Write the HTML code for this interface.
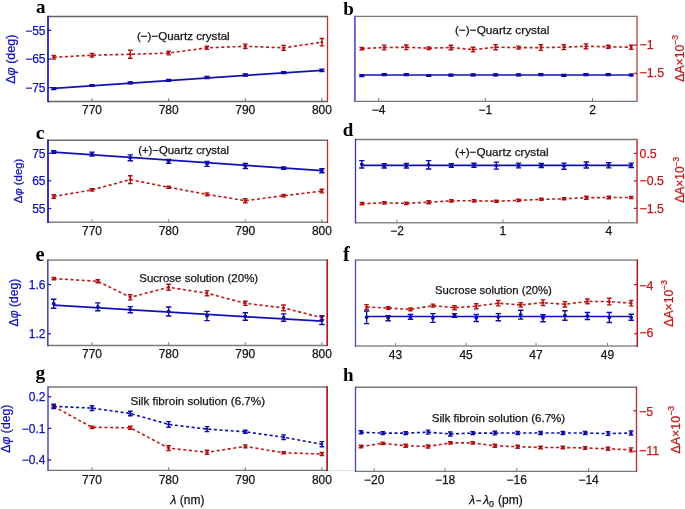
<!DOCTYPE html>
<html><head><meta charset="utf-8"><style>
html,body{margin:0;padding:0;background:#fff;}
body{width:685px;height:509px;overflow:hidden;}
svg{display:block;font-family:"Liberation Sans", sans-serif;filter:blur(0.3px);}
</style></head><body>
<svg width="685" height="509" viewBox="0 0 685 509">
<rect width="685" height="509" fill="#fff"/>
<line x1="48.0" y1="16.5" x2="327.5" y2="16.5" stroke="#606060" stroke-width="1.4"/>
<line x1="48.0" y1="101.5" x2="327.5" y2="101.5" stroke="#606060" stroke-width="1.4"/>
<line x1="48.0" y1="15.8" x2="48.0" y2="102.2" stroke="#2020c8" stroke-width="1.8"/>
<line x1="327.5" y1="15.8" x2="327.5" y2="102.2" stroke="#b83030" stroke-width="1.3"/>
<line x1="92.015" y1="101.5" x2="92.015" y2="98.3" stroke="#666" stroke-width="1"/>
<text x="92.015" y="114.2" text-anchor="middle" fill="#151515" stroke="#151515" stroke-width="0.25" font-size="12">770</text>
<line x1="168.645" y1="101.5" x2="168.645" y2="98.3" stroke="#666" stroke-width="1"/>
<text x="168.645" y="114.2" text-anchor="middle" fill="#151515" stroke="#151515" stroke-width="0.25" font-size="12">780</text>
<line x1="245.27500000000003" y1="101.5" x2="245.27500000000003" y2="98.3" stroke="#666" stroke-width="1"/>
<text x="245.27500000000003" y="114.2" text-anchor="middle" fill="#151515" stroke="#151515" stroke-width="0.25" font-size="12">790</text>
<line x1="321.905" y1="101.5" x2="321.905" y2="98.3" stroke="#666" stroke-width="1"/>
<text x="321.905" y="114.2" text-anchor="middle" fill="#151515" stroke="#151515" stroke-width="0.25" font-size="12">800</text>
<line x1="48.0" y1="30.3" x2="51.2" y2="30.3" stroke="#1212b4" stroke-width="1.2"/>
<text x="45.5" y="34.6" text-anchor="end" fill="#1212b4" stroke="#1212b4" stroke-width="0.25" font-size="12">&#8722;55</text>
<line x1="48.0" y1="59.0" x2="51.2" y2="59.0" stroke="#1212b4" stroke-width="1.2"/>
<text x="45.5" y="63.3" text-anchor="end" fill="#1212b4" stroke="#1212b4" stroke-width="0.25" font-size="12">&#8722;65</text>
<line x1="48.0" y1="87.7" x2="51.2" y2="87.7" stroke="#1212b4" stroke-width="1.2"/>
<text x="45.5" y="92.0" text-anchor="end" fill="#1212b4" stroke="#1212b4" stroke-width="0.25" font-size="12">&#8722;75</text>
<polyline points="53.7,57.3 92.0,55.2 130.3,54.3 168.6,53.1 207.0,47.8 245.3,46.3 283.6,47.8 321.9,42.2" fill="none" stroke="#c01a1a" stroke-width="1.6" stroke-dasharray="3.1,2.5"/>
<path d="M51.4,55.5h4.6M53.7,55.5v3.6M51.4,59.1h4.6M89.7,53.4h4.6M92.0,53.4v3.6M89.7,57.0h4.6M128.0,50.3h4.6M130.3,50.3v8.0M128.0,58.3h4.6M166.3,51.3h4.6M168.6,51.3v3.6M166.3,54.9h4.6M204.7,46.2h4.6M207.0,46.2v3.2M204.7,49.4h4.6M243.0,44.1h4.6M245.3,44.1v4.4M243.0,48.5h4.6M281.3,45.4h4.6M283.6,45.4v4.8M281.3,50.2h4.6M319.6,38.5h4.6M321.9,38.5v7.4M319.6,45.9h4.6" stroke="#b01010" stroke-width="1.4" fill="none"/>
<rect x="52.3" y="56.3" width="2.8" height="2.0" rx="0.6" fill="#b01010"/>
<rect x="90.6" y="54.2" width="2.8" height="2.0" rx="0.6" fill="#b01010"/>
<rect x="128.9" y="53.3" width="2.8" height="2.0" rx="0.6" fill="#b01010"/>
<rect x="167.2" y="52.1" width="2.8" height="2.0" rx="0.6" fill="#b01010"/>
<rect x="205.6" y="46.8" width="2.8" height="2.0" rx="0.6" fill="#b01010"/>
<rect x="243.9" y="45.3" width="2.8" height="2.0" rx="0.6" fill="#b01010"/>
<rect x="282.2" y="46.8" width="2.8" height="2.0" rx="0.6" fill="#b01010"/>
<rect x="320.5" y="41.2" width="2.8" height="2.0" rx="0.6" fill="#b01010"/>
<polyline points="53.7,88.3 321.9,70.3" fill="none" stroke="#1212b4" stroke-width="1.7"/>
<path d="M51.0,87.6h5.4M53.7,87.6v2.0M51.0,89.6h5.4M89.3,84.6h5.4M92.0,84.6v1.8M89.3,86.4h5.4M127.6,82.0h5.4M130.3,82.0v1.8M127.6,83.8h5.4M165.9,79.4h5.4M168.6,79.4v1.8M165.9,81.2h5.4M204.3,76.5h5.4M207.0,76.5v2.0M204.3,78.5h5.4M242.6,74.0h5.4M245.3,74.0v2.0M242.6,76.0h5.4M280.9,71.7h5.4M283.6,71.7v1.8M280.9,73.5h5.4M319.2,69.1h5.4M321.9,69.1v2.4M319.2,71.5h5.4" stroke="#0c0ca4" stroke-width="1.4" fill="none"/>
<rect x="51.9" y="87.2" width="3.6" height="2.8" rx="0.8" fill="#0c0ca4"/>
<rect x="90.2" y="84.1" width="3.6" height="2.8" rx="0.8" fill="#0c0ca4"/>
<rect x="128.5" y="81.5" width="3.6" height="2.8" rx="0.8" fill="#0c0ca4"/>
<rect x="166.8" y="78.9" width="3.6" height="2.8" rx="0.8" fill="#0c0ca4"/>
<rect x="205.2" y="76.1" width="3.6" height="2.8" rx="0.8" fill="#0c0ca4"/>
<rect x="243.5" y="73.6" width="3.6" height="2.8" rx="0.8" fill="#0c0ca4"/>
<rect x="281.8" y="71.2" width="3.6" height="2.8" rx="0.8" fill="#0c0ca4"/>
<rect x="320.1" y="68.9" width="3.6" height="2.8" rx="0.8" fill="#0c0ca4"/>
<text x="136.9" y="39.8" fill="#151515" stroke="#151515" stroke-width="0.25" font-size="11.6">(&#8722;)&#8722;Quartz crystal</text>
<text x="36" y="13.4" font-family='"Liberation Serif", serif' font-weight="bold" font-size="19" fill="#000">a</text>
<text transform="translate(14.7,59.2) rotate(-90)" text-anchor="middle" fill="#1212b4" stroke="#1212b4" stroke-width="0.25" font-size="12.5">&#916;<tspan font-style="italic">&#966;</tspan> (deg)</text>
<line x1="354.9" y1="16.4" x2="637.0" y2="16.4" stroke="#777" stroke-width="1.4"/>
<line x1="354.9" y1="101.4" x2="637.0" y2="101.4" stroke="#777" stroke-width="1.4"/>
<line x1="354.9" y1="15.7" x2="354.9" y2="102.10000000000001" stroke="#6464c8" stroke-width="1.9"/>
<line x1="637.0" y1="15.7" x2="637.0" y2="102.10000000000001" stroke="#b85858" stroke-width="1.5"/>
<line x1="378.7" y1="101.4" x2="378.7" y2="98.2" stroke="#777" stroke-width="1"/>
<text x="378.7" y="114.1" text-anchor="middle" fill="#151515" stroke="#151515" stroke-width="0.25" font-size="12">&#8722;4</text>
<line x1="485.3" y1="101.4" x2="485.3" y2="98.2" stroke="#777" stroke-width="1"/>
<text x="485.3" y="114.1" text-anchor="middle" fill="#151515" stroke="#151515" stroke-width="0.25" font-size="12">&#8722;1</text>
<line x1="592.5" y1="101.4" x2="592.5" y2="98.2" stroke="#777" stroke-width="1"/>
<text x="592.5" y="114.1" text-anchor="middle" fill="#151515" stroke="#151515" stroke-width="0.25" font-size="12">2</text>
<line x1="637.0" y1="45.1" x2="633.8" y2="45.1" stroke="#c01a1a" stroke-width="1.2"/>
<text x="639.6" y="48.900000000000006" fill="#c01a1a" stroke="#c01a1a" stroke-width="0.25" font-size="12.4">&#8722;1</text>
<line x1="637.0" y1="73.3" x2="633.8" y2="73.3" stroke="#c01a1a" stroke-width="1.2"/>
<text x="639.6" y="77.10000000000001" fill="#c01a1a" stroke="#c01a1a" stroke-width="0.25" font-size="12.4">&#8722;1.5</text>
<polyline points="361.8,48.6 384.2,47.5 406.3,47.3 428.7,48.2 450.9,47.5 473.1,49.6 495.6,47.2 518.5,47.6 540.8,47.6 563.8,47.2 585.9,46.3 608.2,46.8 631.2,47.2" fill="none" stroke="#c01a1a" stroke-width="1.6" stroke-dasharray="3.1,2.5"/>
<path d="M359.5,47.4h4.6M361.8,47.4v2.4M359.5,49.8h4.6M381.9,45.1h4.6M384.2,45.1v4.8M381.9,49.9h4.6M404.0,45.0h4.6M406.3,45.0v4.6M404.0,49.6h4.6M426.4,46.9h4.6M428.7,46.9v2.6M426.4,49.5h4.6M448.6,45.2h4.6M450.9,45.2v4.6M448.6,49.8h4.6M470.8,47.3h4.6M473.1,47.3v4.6M470.8,51.9h4.6M493.3,44.6h4.6M495.6,44.6v5.2M493.3,49.8h4.6M516.2,46.1h4.6M518.5,46.1v3.0M516.2,49.1h4.6M538.5,44.8h4.6M540.8,44.8v5.6M538.5,50.4h4.6M561.5,44.8h4.6M563.8,44.8v4.8M561.5,49.6h4.6M583.6,43.9h4.6M585.9,43.9v4.8M583.6,48.7h4.6M605.9,45.3h4.6M608.2,45.3v3.0M605.9,48.3h4.6M628.9,45.2h4.6M631.2,45.2v4.0M628.9,49.2h4.6" stroke="#b01010" stroke-width="1.4" fill="none"/>
<rect x="360.4" y="47.6" width="2.8" height="2.0" rx="0.6" fill="#b01010"/>
<rect x="382.8" y="46.5" width="2.8" height="2.0" rx="0.6" fill="#b01010"/>
<rect x="404.9" y="46.3" width="2.8" height="2.0" rx="0.6" fill="#b01010"/>
<rect x="427.3" y="47.2" width="2.8" height="2.0" rx="0.6" fill="#b01010"/>
<rect x="449.5" y="46.5" width="2.8" height="2.0" rx="0.6" fill="#b01010"/>
<rect x="471.7" y="48.6" width="2.8" height="2.0" rx="0.6" fill="#b01010"/>
<rect x="494.2" y="46.2" width="2.8" height="2.0" rx="0.6" fill="#b01010"/>
<rect x="517.1" y="46.6" width="2.8" height="2.0" rx="0.6" fill="#b01010"/>
<rect x="539.4" y="46.6" width="2.8" height="2.0" rx="0.6" fill="#b01010"/>
<rect x="562.4" y="46.2" width="2.8" height="2.0" rx="0.6" fill="#b01010"/>
<rect x="584.5" y="45.3" width="2.8" height="2.0" rx="0.6" fill="#b01010"/>
<rect x="606.8" y="45.8" width="2.8" height="2.0" rx="0.6" fill="#b01010"/>
<rect x="629.8" y="46.2" width="2.8" height="2.0" rx="0.6" fill="#b01010"/>
<polyline points="361.8,75.0 631.2,75.0" fill="none" stroke="#1212b4" stroke-width="1.7"/>
<path d="M359.1,74.8h5.4M361.8,74.8v1.8M359.1,76.6h5.4M381.5,73.7h5.4M384.2,73.7v1.8M381.5,75.5h5.4M403.6,73.7h5.4M406.3,73.7v1.8M403.6,75.5h5.4M426.0,74.6h5.4M428.7,74.6v1.8M426.0,76.4h5.4M448.2,74.2h5.4M450.9,74.2v1.8M448.2,76.0h5.4M470.4,73.9h5.4M473.1,73.9v1.8M470.4,75.7h5.4M492.9,73.9h5.4M495.6,73.9v1.8M492.9,75.7h5.4M515.8,73.9h5.4M518.5,73.9v1.8M515.8,75.7h5.4M538.1,73.7h5.4M540.8,73.7v1.8M538.1,75.5h5.4M561.1,74.5h5.4M563.8,74.5v1.8M561.1,76.3h5.4M583.2,73.7h5.4M585.9,73.7v1.8M583.2,75.5h5.4M605.5,73.7h5.4M608.2,73.7v1.8M605.5,75.5h5.4M628.5,74.1h5.4M631.2,74.1v1.8M628.5,75.9h5.4" stroke="#0c0ca4" stroke-width="1.4" fill="none"/>
<rect x="360.0" y="74.3" width="3.6" height="2.8" rx="0.8" fill="#0c0ca4"/>
<rect x="382.4" y="73.2" width="3.6" height="2.8" rx="0.8" fill="#0c0ca4"/>
<rect x="404.5" y="73.2" width="3.6" height="2.8" rx="0.8" fill="#0c0ca4"/>
<rect x="426.9" y="74.1" width="3.6" height="2.8" rx="0.8" fill="#0c0ca4"/>
<rect x="449.1" y="73.7" width="3.6" height="2.8" rx="0.8" fill="#0c0ca4"/>
<rect x="471.3" y="73.4" width="3.6" height="2.8" rx="0.8" fill="#0c0ca4"/>
<rect x="493.8" y="73.4" width="3.6" height="2.8" rx="0.8" fill="#0c0ca4"/>
<rect x="516.7" y="73.4" width="3.6" height="2.8" rx="0.8" fill="#0c0ca4"/>
<rect x="539.0" y="73.2" width="3.6" height="2.8" rx="0.8" fill="#0c0ca4"/>
<rect x="562.0" y="74.0" width="3.6" height="2.8" rx="0.8" fill="#0c0ca4"/>
<rect x="584.1" y="73.2" width="3.6" height="2.8" rx="0.8" fill="#0c0ca4"/>
<rect x="606.4" y="73.2" width="3.6" height="2.8" rx="0.8" fill="#0c0ca4"/>
<rect x="629.4" y="73.6" width="3.6" height="2.8" rx="0.8" fill="#0c0ca4"/>
<text x="455.0" y="34.2" fill="#151515" stroke="#151515" stroke-width="0.25" font-size="11.8">(&#8722;)&#8722;Quartz crystal</text>
<text x="343.2" y="14.6" font-family='"Liberation Serif", serif' font-weight="bold" font-size="19" fill="#000">b</text>
<text transform="translate(684.0,58.4) rotate(-90)" text-anchor="middle" fill="#c01a1a" stroke="#c01a1a" stroke-width="0.25" font-size="12.2">&#916;A&#215;10<tspan font-size="8.54" dy="-5.73">&#8722;3</tspan></text>
<line x1="48.0" y1="140.25" x2="327.5" y2="140.25" stroke="#707070" stroke-width="1.5"/>
<line x1="48.0" y1="222.3" x2="327.5" y2="222.3" stroke="#808080" stroke-width="1.4"/>
<line x1="48.0" y1="139.5" x2="48.0" y2="223.0" stroke="#1c1cc0" stroke-width="1.8"/>
<line x1="327.5" y1="139.5" x2="327.5" y2="223.0" stroke="#b03038" stroke-width="1.3"/>
<line x1="92.015" y1="222.3" x2="92.015" y2="219.10000000000002" stroke="#888" stroke-width="1"/>
<text x="92.015" y="234.6" text-anchor="middle" fill="#151515" stroke="#151515" stroke-width="0.25" font-size="12">770</text>
<line x1="168.645" y1="222.3" x2="168.645" y2="219.10000000000002" stroke="#888" stroke-width="1"/>
<text x="168.645" y="234.6" text-anchor="middle" fill="#151515" stroke="#151515" stroke-width="0.25" font-size="12">780</text>
<line x1="245.27500000000003" y1="222.3" x2="245.27500000000003" y2="219.10000000000002" stroke="#888" stroke-width="1"/>
<text x="245.27500000000003" y="234.6" text-anchor="middle" fill="#151515" stroke="#151515" stroke-width="0.25" font-size="12">790</text>
<line x1="321.905" y1="222.3" x2="321.905" y2="219.10000000000002" stroke="#888" stroke-width="1"/>
<text x="321.905" y="234.6" text-anchor="middle" fill="#151515" stroke="#151515" stroke-width="0.25" font-size="12">800</text>
<line x1="48.0" y1="153.2" x2="51.2" y2="153.2" stroke="#1212b4" stroke-width="1.2"/>
<text x="45.5" y="157.5" text-anchor="end" fill="#1212b4" stroke="#1212b4" stroke-width="0.25" font-size="12">75</text>
<line x1="48.0" y1="180.8" x2="51.2" y2="180.8" stroke="#1212b4" stroke-width="1.2"/>
<text x="45.5" y="185.10000000000002" text-anchor="end" fill="#1212b4" stroke="#1212b4" stroke-width="0.25" font-size="12">65</text>
<line x1="48.0" y1="208.5" x2="51.2" y2="208.5" stroke="#1212b4" stroke-width="1.2"/>
<text x="45.5" y="212.8" text-anchor="end" fill="#1212b4" stroke="#1212b4" stroke-width="0.25" font-size="12">55</text>
<polyline points="53.7,152.2 321.9,170.6" fill="none" stroke="#1212b4" stroke-width="1.7"/>
<path d="M51.0,150.8h5.4M53.7,150.8v2.4M51.0,153.2h5.4M89.3,152.1h5.4M92.0,152.1v4.0M89.3,156.1h5.4M127.6,154.9h5.4M130.3,154.9v5.8M127.6,160.7h5.4M165.9,159.4h5.4M168.6,159.4v4.0M165.9,163.4h5.4M204.3,161.4h5.4M207.0,161.4v5.0M204.3,166.4h5.4M242.6,163.5h5.4M245.3,163.5v5.0M242.6,168.5h5.4M280.9,166.9h5.4M283.6,166.9v2.4M280.9,169.3h5.4M319.2,168.7h5.4M321.9,168.7v4.0M319.2,172.7h5.4" stroke="#0c0ca4" stroke-width="1.4" fill="none"/>
<rect x="51.9" y="150.6" width="3.6" height="2.8" rx="0.8" fill="#0c0ca4"/>
<rect x="90.2" y="152.7" width="3.6" height="2.8" rx="0.8" fill="#0c0ca4"/>
<rect x="128.5" y="156.4" width="3.6" height="2.8" rx="0.8" fill="#0c0ca4"/>
<rect x="166.8" y="160.0" width="3.6" height="2.8" rx="0.8" fill="#0c0ca4"/>
<rect x="205.2" y="162.5" width="3.6" height="2.8" rx="0.8" fill="#0c0ca4"/>
<rect x="243.5" y="164.6" width="3.6" height="2.8" rx="0.8" fill="#0c0ca4"/>
<rect x="281.8" y="166.7" width="3.6" height="2.8" rx="0.8" fill="#0c0ca4"/>
<rect x="320.1" y="169.3" width="3.6" height="2.8" rx="0.8" fill="#0c0ca4"/>
<polyline points="53.7,196.5 92.0,189.9 130.3,179.6 168.6,187.3 207.0,194.4 245.3,200.7 283.6,195.7 321.9,191.1" fill="none" stroke="#c01a1a" stroke-width="1.6" stroke-dasharray="3.1,2.5"/>
<path d="M51.4,194.7h4.6M53.7,194.7v3.6M51.4,198.3h4.6M89.7,188.7h4.6M92.0,188.7v2.4M89.7,191.1h4.6M128.0,175.7h4.6M130.3,175.7v7.8M128.0,183.5h4.6M166.3,186.3h4.6M168.6,186.3v2.0M166.3,188.3h4.6M204.7,192.9h4.6M207.0,192.9v3.0M204.7,195.9h4.6M243.0,198.7h4.6M245.3,198.7v4.0M243.0,202.7h4.6M281.3,194.5h4.6M283.6,194.5v2.4M281.3,196.9h4.6M319.6,189.3h4.6M321.9,189.3v3.6M319.6,192.9h4.6" stroke="#b01010" stroke-width="1.4" fill="none"/>
<rect x="52.3" y="195.5" width="2.8" height="2.0" rx="0.6" fill="#b01010"/>
<rect x="90.6" y="188.9" width="2.8" height="2.0" rx="0.6" fill="#b01010"/>
<rect x="128.9" y="178.6" width="2.8" height="2.0" rx="0.6" fill="#b01010"/>
<rect x="167.2" y="186.3" width="2.8" height="2.0" rx="0.6" fill="#b01010"/>
<rect x="205.6" y="193.4" width="2.8" height="2.0" rx="0.6" fill="#b01010"/>
<rect x="243.9" y="199.7" width="2.8" height="2.0" rx="0.6" fill="#b01010"/>
<rect x="282.2" y="194.7" width="2.8" height="2.0" rx="0.6" fill="#b01010"/>
<rect x="320.5" y="190.1" width="2.8" height="2.0" rx="0.6" fill="#b01010"/>
<text x="138.2" y="154.0" fill="#151515" stroke="#151515" stroke-width="0.25" font-size="11.35">(+)&#8722;Quartz crystal</text>
<text x="35.8" y="139.1" font-family='"Liberation Serif", serif' font-weight="bold" font-size="19.8" fill="#000">c</text>
<text transform="translate(21.7,181.0) rotate(-90)" text-anchor="middle" fill="#1212b4" stroke="#1212b4" stroke-width="0.25" font-size="11.3">&#916;<tspan font-style="italic">&#966;</tspan> (deg)</text>
<line x1="355.5" y1="139.5" x2="637.0" y2="139.5" stroke="#777" stroke-width="1.4"/>
<line x1="355.5" y1="222.7" x2="637.0" y2="222.7" stroke="#888" stroke-width="1.4"/>
<line x1="355.5" y1="138.8" x2="355.5" y2="223.39999999999998" stroke="#3535b0" stroke-width="1.3"/>
<line x1="637.0" y1="138.8" x2="637.0" y2="223.39999999999998" stroke="#c86868" stroke-width="2.0"/>
<line x1="397.0" y1="222.7" x2="397.0" y2="219.5" stroke="#888" stroke-width="1"/>
<text x="397.0" y="235.3" text-anchor="middle" fill="#151515" stroke="#151515" stroke-width="0.25" font-size="12">&#8722;2</text>
<line x1="502.9" y1="222.7" x2="502.9" y2="219.5" stroke="#888" stroke-width="1"/>
<text x="502.9" y="235.3" text-anchor="middle" fill="#151515" stroke="#151515" stroke-width="0.25" font-size="12">1</text>
<line x1="608.8" y1="222.7" x2="608.8" y2="219.5" stroke="#888" stroke-width="1"/>
<text x="608.8" y="235.3" text-anchor="middle" fill="#151515" stroke="#151515" stroke-width="0.25" font-size="12">4</text>
<line x1="637.0" y1="153.4" x2="633.8" y2="153.4" stroke="#c01a1a" stroke-width="1.2"/>
<text x="639.5" y="157.6" fill="#c01a1a" stroke="#c01a1a" stroke-width="0.25" font-size="12.4">0.5</text>
<line x1="637.0" y1="181.0" x2="633.8" y2="181.0" stroke="#c01a1a" stroke-width="1.2"/>
<text x="639.5" y="185.2" fill="#c01a1a" stroke="#c01a1a" stroke-width="0.25" font-size="12.4">&#8722;0.5</text>
<line x1="637.0" y1="208.4" x2="633.8" y2="208.4" stroke="#c01a1a" stroke-width="1.2"/>
<text x="639.5" y="212.6" fill="#c01a1a" stroke="#c01a1a" stroke-width="0.25" font-size="12.4">&#8722;1.5</text>
<polyline points="361.8,165.3 631.2,165.3" fill="none" stroke="#1212b4" stroke-width="1.7"/>
<path d="M359.1,160.6h5.4M361.8,160.6v7.4M359.1,168.0h5.4M381.5,163.8h5.4M384.2,163.8v4.2M381.5,168.0h5.4M403.6,163.4h5.4M406.3,163.4v4.6M403.6,168.0h5.4M425.9,160.6h5.4M428.6,160.6v8.4M425.9,169.0h5.4M448.6,163.8h5.4M451.3,163.8v3.6M448.6,167.4h5.4M471.3,163.2h5.4M474.0,163.2v4.2M471.3,167.4h5.4M493.6,162.1h5.4M496.3,162.1v7.0M493.6,169.1h5.4M515.8,163.1h5.4M518.5,163.1v4.8M515.8,167.9h5.4M538.6,163.5h5.4M541.3,163.5v4.0M538.6,167.5h5.4M561.3,163.1h5.4M564.0,163.1v6.2M561.3,169.3h5.4M583.6,162.0h5.4M586.3,162.0v6.0M583.6,168.0h5.4M606.0,162.7h5.4M608.7,162.7v5.2M606.0,167.9h5.4M628.5,163.1h5.4M631.2,163.1v4.4M628.5,167.5h5.4" stroke="#0c0ca4" stroke-width="1.4" fill="none"/>
<rect x="360.0" y="162.9" width="3.6" height="2.8" rx="0.8" fill="#0c0ca4"/>
<rect x="382.4" y="164.5" width="3.6" height="2.8" rx="0.8" fill="#0c0ca4"/>
<rect x="404.5" y="164.3" width="3.6" height="2.8" rx="0.8" fill="#0c0ca4"/>
<rect x="426.8" y="163.4" width="3.6" height="2.8" rx="0.8" fill="#0c0ca4"/>
<rect x="449.5" y="164.2" width="3.6" height="2.8" rx="0.8" fill="#0c0ca4"/>
<rect x="472.2" y="163.9" width="3.6" height="2.8" rx="0.8" fill="#0c0ca4"/>
<rect x="494.5" y="164.2" width="3.6" height="2.8" rx="0.8" fill="#0c0ca4"/>
<rect x="516.7" y="164.1" width="3.6" height="2.8" rx="0.8" fill="#0c0ca4"/>
<rect x="539.5" y="164.1" width="3.6" height="2.8" rx="0.8" fill="#0c0ca4"/>
<rect x="562.2" y="164.8" width="3.6" height="2.8" rx="0.8" fill="#0c0ca4"/>
<rect x="584.5" y="163.6" width="3.6" height="2.8" rx="0.8" fill="#0c0ca4"/>
<rect x="606.9" y="163.9" width="3.6" height="2.8" rx="0.8" fill="#0c0ca4"/>
<rect x="629.4" y="163.9" width="3.6" height="2.8" rx="0.8" fill="#0c0ca4"/>
<polyline points="361.8,203.6 384.2,202.9 406.3,203.3 428.6,202.3 451.3,200.8 474.0,200.8 496.3,201.2 518.5,200.4 541.3,199.3 564.0,198.8 586.3,197.7 608.7,197.5 631.2,197.5" fill="none" stroke="#c01a1a" stroke-width="1.6" stroke-dasharray="3.1,2.5"/>
<path d="M359.5,202.4h4.6M361.8,202.4v2.4M359.5,204.8h4.6M381.9,201.7h4.6M384.2,201.7v2.4M381.9,204.1h4.6M404.0,202.1h4.6M406.3,202.1v2.4M404.0,204.5h4.6M426.3,200.8h4.6M428.6,200.8v3.0M426.3,203.8h4.6M449.0,199.6h4.6M451.3,199.6v2.4M449.0,202.0h4.6M471.7,199.6h4.6M474.0,199.6v2.4M471.7,202.0h4.6M494.0,200.2h4.6M496.3,200.2v2.0M494.0,202.2h4.6M516.2,199.2h4.6M518.5,199.2v2.4M516.2,201.6h4.6M539.0,198.3h4.6M541.3,198.3v2.0M539.0,200.3h4.6M561.7,197.8h4.6M564.0,197.8v2.0M561.7,199.8h4.6M584.0,196.2h4.6M586.3,196.2v3.0M584.0,199.2h4.6M606.4,196.2h4.6M608.7,196.2v2.6M606.4,198.8h4.6M628.9,196.5h4.6M631.2,196.5v2.0M628.9,198.5h4.6" stroke="#b01010" stroke-width="1.4" fill="none"/>
<rect x="360.4" y="202.6" width="2.8" height="2.0" rx="0.6" fill="#b01010"/>
<rect x="382.8" y="201.9" width="2.8" height="2.0" rx="0.6" fill="#b01010"/>
<rect x="404.9" y="202.3" width="2.8" height="2.0" rx="0.6" fill="#b01010"/>
<rect x="427.2" y="201.3" width="2.8" height="2.0" rx="0.6" fill="#b01010"/>
<rect x="449.9" y="199.8" width="2.8" height="2.0" rx="0.6" fill="#b01010"/>
<rect x="472.6" y="199.8" width="2.8" height="2.0" rx="0.6" fill="#b01010"/>
<rect x="494.9" y="200.2" width="2.8" height="2.0" rx="0.6" fill="#b01010"/>
<rect x="517.1" y="199.4" width="2.8" height="2.0" rx="0.6" fill="#b01010"/>
<rect x="539.9" y="198.3" width="2.8" height="2.0" rx="0.6" fill="#b01010"/>
<rect x="562.6" y="197.8" width="2.8" height="2.0" rx="0.6" fill="#b01010"/>
<rect x="584.9" y="196.7" width="2.8" height="2.0" rx="0.6" fill="#b01010"/>
<rect x="607.3" y="196.5" width="2.8" height="2.0" rx="0.6" fill="#b01010"/>
<rect x="629.8" y="196.5" width="2.8" height="2.0" rx="0.6" fill="#b01010"/>
<text x="455.0" y="156.0" fill="#151515" stroke="#151515" stroke-width="0.25" font-size="11.7">(+)&#8722;Quartz crystal</text>
<text x="342.8" y="136.4" font-family='"Liberation Serif", serif' font-weight="bold" font-size="19" fill="#000">d</text>
<text transform="translate(684.2,179.8) rotate(-90)" text-anchor="middle" fill="#c01a1a" stroke="#c01a1a" stroke-width="0.25" font-size="12.0">&#916;A&#215;10<tspan font-size="8.40" dy="-5.64">&#8722;3</tspan></text>
<line x1="47.8" y1="260.2" x2="327.2" y2="260.2" stroke="#999" stroke-width="1.7"/>
<line x1="47.8" y1="345.5" x2="327.2" y2="345.5" stroke="#777" stroke-width="1.4"/>
<line x1="47.8" y1="259.34999999999997" x2="47.8" y2="346.2" stroke="#4848c0" stroke-width="1.6"/>
<line x1="327.2" y1="259.34999999999997" x2="327.2" y2="346.2" stroke="#b41818" stroke-width="1.7"/>
<line x1="92.015" y1="345.5" x2="92.015" y2="342.3" stroke="#777" stroke-width="1"/>
<text x="92.015" y="358.2" text-anchor="middle" fill="#151515" stroke="#151515" stroke-width="0.25" font-size="12">770</text>
<line x1="168.645" y1="345.5" x2="168.645" y2="342.3" stroke="#777" stroke-width="1"/>
<text x="168.645" y="358.2" text-anchor="middle" fill="#151515" stroke="#151515" stroke-width="0.25" font-size="12">780</text>
<line x1="245.27500000000003" y1="345.5" x2="245.27500000000003" y2="342.3" stroke="#777" stroke-width="1"/>
<text x="245.27500000000003" y="358.2" text-anchor="middle" fill="#151515" stroke="#151515" stroke-width="0.25" font-size="12">790</text>
<line x1="321.905" y1="345.5" x2="321.905" y2="342.3" stroke="#777" stroke-width="1"/>
<text x="321.905" y="358.2" text-anchor="middle" fill="#151515" stroke="#151515" stroke-width="0.25" font-size="12">800</text>
<line x1="47.8" y1="284.6" x2="51.0" y2="284.6" stroke="#1212b4" stroke-width="1.2"/>
<text x="45.5" y="288.90000000000003" text-anchor="end" fill="#1212b4" stroke="#1212b4" stroke-width="0.25" font-size="12">1.6</text>
<line x1="47.8" y1="333.8" x2="51.0" y2="333.8" stroke="#1212b4" stroke-width="1.2"/>
<text x="45.5" y="338.1" text-anchor="end" fill="#1212b4" stroke="#1212b4" stroke-width="0.25" font-size="12">1.2</text>
<polyline points="53.7,278.6 97.8,281.3 130.3,297.3 168.6,287.3 207.0,293.2 245.3,303.3 283.6,307.9 321.9,317.7" fill="none" stroke="#c01a1a" stroke-width="1.6" stroke-dasharray="3.1,2.5"/>
<path d="M51.4,277.4h4.6M53.7,277.4v2.4M51.4,279.8h4.6M95.5,279.8h4.6M97.8,279.8v3.0M95.5,282.8h4.6M128.0,294.7h4.6M130.3,294.7v5.2M128.0,299.9h4.6M166.3,284.3h4.6M168.6,284.3v6.0M166.3,290.3h4.6M204.7,290.6h4.6M207.0,290.6v5.2M204.7,295.8h4.6M243.0,301.2h4.6M245.3,301.2v4.2M243.0,305.4h4.6M281.3,305.0h4.6M283.6,305.0v5.8M281.3,310.8h4.6M319.6,315.6h4.6M321.9,315.6v4.2M319.6,319.8h4.6" stroke="#b01010" stroke-width="1.4" fill="none"/>
<rect x="52.3" y="277.6" width="2.8" height="2.0" rx="0.6" fill="#b01010"/>
<rect x="96.4" y="280.3" width="2.8" height="2.0" rx="0.6" fill="#b01010"/>
<rect x="128.9" y="296.3" width="2.8" height="2.0" rx="0.6" fill="#b01010"/>
<rect x="167.2" y="286.3" width="2.8" height="2.0" rx="0.6" fill="#b01010"/>
<rect x="205.6" y="292.2" width="2.8" height="2.0" rx="0.6" fill="#b01010"/>
<rect x="243.9" y="302.3" width="2.8" height="2.0" rx="0.6" fill="#b01010"/>
<rect x="282.2" y="306.9" width="2.8" height="2.0" rx="0.6" fill="#b01010"/>
<rect x="320.5" y="316.7" width="2.8" height="2.0" rx="0.6" fill="#b01010"/>
<polyline points="53.7,305.1 321.9,321.2" fill="none" stroke="#1212b4" stroke-width="1.7"/>
<path d="M51.0,299.2h5.4M53.7,299.2v9.0M51.0,308.2h5.4M95.1,302.9h5.4M97.8,302.9v7.8M95.1,310.7h5.4M127.6,306.6h5.4M130.3,306.6v6.2M127.6,312.8h5.4M165.9,307.0h5.4M168.6,307.0v9.0M165.9,316.0h5.4M204.3,311.4h5.4M207.0,311.4v9.3M204.3,320.6h5.4M242.6,312.8h5.4M245.3,312.8v7.4M242.6,320.2h5.4M280.9,313.9h5.4M283.6,313.9v7.4M280.9,321.3h5.4M319.2,316.1h5.4M321.9,316.1v8.4M319.2,324.5h5.4" stroke="#0c0ca4" stroke-width="1.4" fill="none"/>
<rect x="51.9" y="302.3" width="3.6" height="2.8" rx="0.8" fill="#0c0ca4"/>
<rect x="96.0" y="305.4" width="3.6" height="2.8" rx="0.8" fill="#0c0ca4"/>
<rect x="128.5" y="308.3" width="3.6" height="2.8" rx="0.8" fill="#0c0ca4"/>
<rect x="166.8" y="310.1" width="3.6" height="2.8" rx="0.8" fill="#0c0ca4"/>
<rect x="205.2" y="314.6" width="3.6" height="2.8" rx="0.8" fill="#0c0ca4"/>
<rect x="243.5" y="315.1" width="3.6" height="2.8" rx="0.8" fill="#0c0ca4"/>
<rect x="281.8" y="316.2" width="3.6" height="2.8" rx="0.8" fill="#0c0ca4"/>
<rect x="320.1" y="318.9" width="3.6" height="2.8" rx="0.8" fill="#0c0ca4"/>
<text x="139.3" y="282.3" fill="#151515" stroke="#151515" stroke-width="0.25" font-size="11.5">Sucrose solution (20%)</text>
<text x="35.6" y="260.6" font-family='"Liberation Serif", serif' font-weight="bold" font-size="20.5" fill="#000">e</text>
<text transform="translate(18.3,302.6) rotate(-90)" text-anchor="middle" fill="#1212b4" stroke="#1212b4" stroke-width="0.25" font-size="12.1">&#916;<tspan font-style="italic">&#966;</tspan> (deg)</text>
<line x1="355.5" y1="260.2" x2="637.3" y2="260.2" stroke="#999" stroke-width="1.7"/>
<line x1="355.5" y1="346.0" x2="637.3" y2="346.0" stroke="#a8a8a8" stroke-width="2.0"/>
<line x1="355.5" y1="259.34999999999997" x2="355.5" y2="347.0" stroke="#4a4ab0" stroke-width="1.3"/>
<line x1="637.3" y1="259.34999999999997" x2="637.3" y2="347.0" stroke="#b41818" stroke-width="1.5"/>
<line x1="395.5" y1="346.0" x2="395.5" y2="342.8" stroke="#888" stroke-width="1"/>
<text x="395.5" y="358.5" text-anchor="middle" fill="#151515" stroke="#151515" stroke-width="0.25" font-size="12">43</text>
<line x1="466.1" y1="346.0" x2="466.1" y2="342.8" stroke="#888" stroke-width="1"/>
<text x="466.1" y="358.5" text-anchor="middle" fill="#151515" stroke="#151515" stroke-width="0.25" font-size="12">45</text>
<line x1="536.0" y1="346.0" x2="536.0" y2="342.8" stroke="#888" stroke-width="1"/>
<text x="536.0" y="358.5" text-anchor="middle" fill="#151515" stroke="#151515" stroke-width="0.25" font-size="12">47</text>
<line x1="607.5" y1="346.0" x2="607.5" y2="342.8" stroke="#888" stroke-width="1"/>
<text x="607.5" y="358.5" text-anchor="middle" fill="#151515" stroke="#151515" stroke-width="0.25" font-size="12">49</text>
<line x1="637.3" y1="284.6" x2="634.0999999999999" y2="284.6" stroke="#c01a1a" stroke-width="1.2"/>
<text x="639.3" y="289.7" fill="#c01a1a" stroke="#c01a1a" stroke-width="0.25" font-size="12.4">&#8722;4</text>
<line x1="637.3" y1="333.7" x2="634.0999999999999" y2="333.7" stroke="#c01a1a" stroke-width="1.2"/>
<text x="639.3" y="337.3" fill="#c01a1a" stroke="#c01a1a" stroke-width="0.25" font-size="12.4">&#8722;6</text>
<polyline points="366.6,307.0 388.2,308.1 410.5,309.4 432.9,305.6 454.5,307.7 476.3,306.2 498.3,303.2 520.7,304.9 543.0,302.7 564.9,304.3 587.4,301.4 609.3,301.6 631.2,303.2" fill="none" stroke="#c01a1a" stroke-width="1.6" stroke-dasharray="3.1,2.5"/>
<path d="M364.3,304.6h4.6M366.6,304.6v4.8M364.3,309.4h4.6M385.9,306.8h4.6M388.2,306.8v2.6M385.9,309.4h4.6M408.2,307.9h4.6M410.5,307.9v3.0M408.2,310.9h4.6M430.6,304.1h4.6M432.9,304.1v3.0M430.6,307.1h4.6M452.2,305.7h4.6M454.5,305.7v4.0M452.2,309.7h4.6M474.0,303.7h4.6M476.3,303.7v5.0M474.0,308.7h4.6M496.0,300.5h4.6M498.3,300.5v5.4M496.0,305.9h4.6M518.4,302.7h4.6M520.7,302.7v4.4M518.4,307.1h4.6M540.7,299.9h4.6M543.0,299.9v5.6M540.7,305.5h4.6M562.6,301.6h4.6M564.9,301.6v5.4M562.6,307.0h4.6M585.1,299.0h4.6M587.4,299.0v4.8M585.1,303.8h4.6M607.0,298.3h4.6M609.3,298.3v6.6M607.0,304.9h4.6M628.9,300.5h4.6M631.2,300.5v5.4M628.9,305.9h4.6" stroke="#b01010" stroke-width="1.4" fill="none"/>
<rect x="365.2" y="306.0" width="2.8" height="2.0" rx="0.6" fill="#b01010"/>
<rect x="386.8" y="307.1" width="2.8" height="2.0" rx="0.6" fill="#b01010"/>
<rect x="409.1" y="308.4" width="2.8" height="2.0" rx="0.6" fill="#b01010"/>
<rect x="431.5" y="304.6" width="2.8" height="2.0" rx="0.6" fill="#b01010"/>
<rect x="453.1" y="306.7" width="2.8" height="2.0" rx="0.6" fill="#b01010"/>
<rect x="474.9" y="305.2" width="2.8" height="2.0" rx="0.6" fill="#b01010"/>
<rect x="496.9" y="302.2" width="2.8" height="2.0" rx="0.6" fill="#b01010"/>
<rect x="519.3" y="303.9" width="2.8" height="2.0" rx="0.6" fill="#b01010"/>
<rect x="541.6" y="301.7" width="2.8" height="2.0" rx="0.6" fill="#b01010"/>
<rect x="563.5" y="303.3" width="2.8" height="2.0" rx="0.6" fill="#b01010"/>
<rect x="586.0" y="300.4" width="2.8" height="2.0" rx="0.6" fill="#b01010"/>
<rect x="607.9" y="300.6" width="2.8" height="2.0" rx="0.6" fill="#b01010"/>
<rect x="629.8" y="302.2" width="2.8" height="2.0" rx="0.6" fill="#b01010"/>
<polyline points="366.6,316.5 631.2,316.5" fill="none" stroke="#1212b4" stroke-width="1.4"/>
<path d="M363.9,311.0h5.4M366.6,311.0v12.6M363.9,323.6h5.4M385.5,315.7h5.4M388.2,315.7v5.0M385.5,320.7h5.4M407.8,314.5h5.4M410.5,314.5v4.8M407.8,319.3h5.4M430.2,313.6h5.4M432.9,313.6v8.8M430.2,322.4h5.4M451.8,313.6h5.4M454.5,313.6v3.8M451.8,317.4h5.4M473.6,314.5h5.4M476.3,314.5v7.0M473.6,321.5h5.4M495.6,313.6h5.4M498.3,313.6v7.2M495.6,320.8h5.4M518.0,310.3h5.4M520.7,310.3v8.8M518.0,319.1h5.4M540.3,314.7h5.4M543.0,314.7v7.0M540.3,321.7h5.4M562.2,310.8h5.4M564.9,310.8v9.4M562.2,320.2h5.4M584.7,312.5h5.4M587.4,312.5v7.0M584.7,319.5h5.4M606.6,312.5h5.4M609.3,312.5v10.0M606.6,322.5h5.4M628.5,314.3h5.4M631.2,314.3v6.0M628.5,320.3h5.4" stroke="#0c0ca4" stroke-width="1.4" fill="none"/>
<rect x="364.8" y="315.9" width="3.6" height="2.8" rx="0.8" fill="#0c0ca4"/>
<rect x="386.4" y="316.8" width="3.6" height="2.8" rx="0.8" fill="#0c0ca4"/>
<rect x="408.7" y="315.5" width="3.6" height="2.8" rx="0.8" fill="#0c0ca4"/>
<rect x="431.1" y="316.6" width="3.6" height="2.8" rx="0.8" fill="#0c0ca4"/>
<rect x="452.7" y="314.1" width="3.6" height="2.8" rx="0.8" fill="#0c0ca4"/>
<rect x="474.5" y="316.6" width="3.6" height="2.8" rx="0.8" fill="#0c0ca4"/>
<rect x="496.5" y="315.8" width="3.6" height="2.8" rx="0.8" fill="#0c0ca4"/>
<rect x="518.9" y="313.3" width="3.6" height="2.8" rx="0.8" fill="#0c0ca4"/>
<rect x="541.2" y="316.8" width="3.6" height="2.8" rx="0.8" fill="#0c0ca4"/>
<rect x="563.1" y="314.1" width="3.6" height="2.8" rx="0.8" fill="#0c0ca4"/>
<rect x="585.6" y="314.6" width="3.6" height="2.8" rx="0.8" fill="#0c0ca4"/>
<rect x="607.5" y="316.1" width="3.6" height="2.8" rx="0.8" fill="#0c0ca4"/>
<rect x="629.4" y="315.9" width="3.6" height="2.8" rx="0.8" fill="#0c0ca4"/>
<text x="435.0" y="294.3" fill="#151515" stroke="#151515" stroke-width="0.25" font-size="11.3">Sucrose solution (20%)</text>
<text x="343.0" y="260.5" font-family='"Liberation Serif", serif' font-weight="bold" font-size="20.3" fill="#000">f</text>
<text transform="translate(672.9,303.4) rotate(-90)" text-anchor="middle" fill="#c01a1a" stroke="#c01a1a" stroke-width="0.25" font-size="12.2">&#916;A&#215;10<tspan font-size="8.54" dy="-5.73">&#8722;3</tspan></text>
<line x1="48.0" y1="387.0" x2="327.1" y2="387.0" stroke="#777" stroke-width="1.7"/>
<line x1="48.0" y1="470.4" x2="327.1" y2="470.4" stroke="#6a7078" stroke-width="1.4"/>
<line x1="48.0" y1="386.15" x2="48.0" y2="471.09999999999997" stroke="#6060c8" stroke-width="1.7"/>
<line x1="327.1" y1="386.15" x2="327.1" y2="471.09999999999997" stroke="#aa1818" stroke-width="1.7"/>
<line x1="328" y1="470.6" x2="355" y2="470.6" stroke="#d8dde2" stroke-width="1"/>
<line x1="92.015" y1="470.4" x2="92.015" y2="467.2" stroke="#6a7078" stroke-width="1"/>
<text x="92.015" y="483.8" text-anchor="middle" fill="#151515" stroke="#151515" stroke-width="0.25" font-size="12">770</text>
<line x1="168.645" y1="470.4" x2="168.645" y2="467.2" stroke="#6a7078" stroke-width="1"/>
<text x="168.645" y="483.8" text-anchor="middle" fill="#151515" stroke="#151515" stroke-width="0.25" font-size="12">780</text>
<line x1="245.27500000000003" y1="470.4" x2="245.27500000000003" y2="467.2" stroke="#6a7078" stroke-width="1"/>
<text x="245.27500000000003" y="483.8" text-anchor="middle" fill="#151515" stroke="#151515" stroke-width="0.25" font-size="12">790</text>
<line x1="321.905" y1="470.4" x2="321.905" y2="467.2" stroke="#6a7078" stroke-width="1"/>
<text x="321.905" y="483.8" text-anchor="middle" fill="#151515" stroke="#151515" stroke-width="0.25" font-size="12">800</text>
<line x1="48.0" y1="396.8" x2="51.2" y2="396.8" stroke="#1212b4" stroke-width="1.2"/>
<text x="45.5" y="401.1" text-anchor="end" fill="#1212b4" stroke="#1212b4" stroke-width="0.25" font-size="12">0.2</text>
<line x1="48.0" y1="428.3" x2="51.2" y2="428.3" stroke="#1212b4" stroke-width="1.2"/>
<text x="45.5" y="432.6" text-anchor="end" fill="#1212b4" stroke="#1212b4" stroke-width="0.25" font-size="12">&#8722;0.1</text>
<line x1="48.0" y1="460.0" x2="51.2" y2="460.0" stroke="#1212b4" stroke-width="1.2"/>
<text x="45.5" y="464.3" text-anchor="end" fill="#1212b4" stroke="#1212b4" stroke-width="0.25" font-size="12">&#8722;0.4</text>
<polyline points="53.7,406.5 92.0,427.3 130.3,427.8 168.6,448.1 207.0,452.3 245.3,446.4 283.6,452.8 321.9,454.0" fill="none" stroke="#c01a1a" stroke-width="1.6" stroke-dasharray="3.1,2.5"/>
<path d="M51.4,405.3h4.6M53.7,405.3v2.4M51.4,407.7h4.6M89.7,426.1h4.6M92.0,426.1v2.4M89.7,428.5h4.6M128.0,426.3h4.6M130.3,426.3v3.0M128.0,429.3h4.6M166.3,445.7h4.6M168.6,445.7v4.8M166.3,450.5h4.6M204.7,450.3h4.6M207.0,450.3v4.0M204.7,454.3h4.6M243.0,444.9h4.6M245.3,444.9v3.0M243.0,447.9h4.6M281.3,451.8h4.6M283.6,451.8v2.0M281.3,453.8h4.6M319.6,452.5h4.6M321.9,452.5v3.0M319.6,455.5h4.6" stroke="#b01010" stroke-width="1.4" fill="none"/>
<rect x="52.3" y="405.5" width="2.8" height="2.0" rx="0.6" fill="#b01010"/>
<rect x="90.6" y="426.3" width="2.8" height="2.0" rx="0.6" fill="#b01010"/>
<rect x="128.9" y="426.8" width="2.8" height="2.0" rx="0.6" fill="#b01010"/>
<rect x="167.2" y="447.1" width="2.8" height="2.0" rx="0.6" fill="#b01010"/>
<rect x="205.6" y="451.3" width="2.8" height="2.0" rx="0.6" fill="#b01010"/>
<rect x="243.9" y="445.4" width="2.8" height="2.0" rx="0.6" fill="#b01010"/>
<rect x="282.2" y="451.8" width="2.8" height="2.0" rx="0.6" fill="#b01010"/>
<rect x="320.5" y="453.0" width="2.8" height="2.0" rx="0.6" fill="#b01010"/>
<polyline points="53.7,406.4 92.0,408.1 130.3,413.5 168.6,424.4 207.0,429.1 245.3,431.8 283.6,437.2 321.9,444.2" fill="none" stroke="#1212b4" stroke-width="1.6" stroke-dasharray="3.1,2.5"/>
<path d="M51.4,404.3h4.6M53.7,404.3v4.2M51.4,408.5h4.6M89.7,405.7h4.6M92.0,405.7v4.8M89.7,410.5h4.6M128.0,411.2h4.6M130.3,411.2v4.6M128.0,415.8h4.6M166.3,421.6h4.6M168.6,421.6v5.6M166.3,427.2h4.6M204.7,426.6h4.6M207.0,426.6v5.0M204.7,431.6h4.6M243.0,430.3h4.6M245.3,430.3v3.0M243.0,433.3h4.6M281.3,434.9h4.6M283.6,434.9v4.6M281.3,439.5h4.6M319.6,441.6h4.6M321.9,441.6v5.2M319.6,446.8h4.6" stroke="#0c0ca4" stroke-width="1.4" fill="none"/>
<rect x="52.3" y="405.4" width="2.8" height="2.0" rx="0.6" fill="#0c0ca4"/>
<rect x="90.6" y="407.1" width="2.8" height="2.0" rx="0.6" fill="#0c0ca4"/>
<rect x="128.9" y="412.5" width="2.8" height="2.0" rx="0.6" fill="#0c0ca4"/>
<rect x="167.2" y="423.4" width="2.8" height="2.0" rx="0.6" fill="#0c0ca4"/>
<rect x="205.6" y="428.1" width="2.8" height="2.0" rx="0.6" fill="#0c0ca4"/>
<rect x="243.9" y="430.8" width="2.8" height="2.0" rx="0.6" fill="#0c0ca4"/>
<rect x="282.2" y="436.2" width="2.8" height="2.0" rx="0.6" fill="#0c0ca4"/>
<rect x="320.5" y="443.2" width="2.8" height="2.0" rx="0.6" fill="#0c0ca4"/>
<text x="130.5" y="405.0" fill="#151515" stroke="#151515" stroke-width="0.25" font-size="11.65">Silk fibroin solution (6.7%)</text>
<text x="35.5" y="378.6" font-family='"Liberation Serif", serif' font-weight="bold" font-size="19.4" fill="#000">g</text>
<text transform="translate(9.6,428.7) rotate(-90)" text-anchor="middle" fill="#1212b4" stroke="#1212b4" stroke-width="0.25" font-size="12.2">&#916;<tspan font-style="italic">&#966;</tspan> (deg)</text>
<line x1="355.5" y1="387.3" x2="636.5" y2="387.3" stroke="#777" stroke-width="1.4"/>
<line x1="355.5" y1="471.4" x2="636.5" y2="471.4" stroke="#707880" stroke-width="1.4"/>
<line x1="355.5" y1="386.6" x2="355.5" y2="472.09999999999997" stroke="#4444b0" stroke-width="1.3"/>
<line x1="636.5" y1="386.6" x2="636.5" y2="472.09999999999997" stroke="#c03040" stroke-width="1.4"/>
<line x1="374.2" y1="471.4" x2="374.2" y2="468.2" stroke="#707880" stroke-width="1"/>
<text x="374.2" y="484.2" text-anchor="middle" fill="#151515" stroke="#151515" stroke-width="0.25" font-size="12">&#8722;20</text>
<line x1="445.1" y1="471.4" x2="445.1" y2="468.2" stroke="#707880" stroke-width="1"/>
<text x="445.1" y="484.2" text-anchor="middle" fill="#151515" stroke="#151515" stroke-width="0.25" font-size="12">&#8722;18</text>
<line x1="516.8" y1="471.4" x2="516.8" y2="468.2" stroke="#707880" stroke-width="1"/>
<text x="516.8" y="484.2" text-anchor="middle" fill="#151515" stroke="#151515" stroke-width="0.25" font-size="12">&#8722;16</text>
<line x1="588.6" y1="471.4" x2="588.6" y2="468.2" stroke="#707880" stroke-width="1"/>
<text x="588.6" y="484.2" text-anchor="middle" fill="#151515" stroke="#151515" stroke-width="0.25" font-size="12">&#8722;14</text>
<line x1="636.5" y1="410.8" x2="633.3" y2="410.8" stroke="#c01a1a" stroke-width="1.2"/>
<text x="639.0" y="415.9" fill="#c01a1a" stroke="#c01a1a" stroke-width="0.25" font-size="12.4">&#8722;5</text>
<line x1="636.5" y1="451.3" x2="633.3" y2="451.3" stroke="#c01a1a" stroke-width="1.2"/>
<text x="639.0" y="455.4" fill="#c01a1a" stroke="#c01a1a" stroke-width="0.25" font-size="12.4">&#8722;11</text>
<polyline points="360.9,446.5 382.7,443.3 405.6,445.8 428.0,446.5 450.3,442.9 472.6,442.9 494.8,445.8 517.6,446.7 540.5,447.5 562.8,447.5 585.1,448.0 608.0,448.8 631.1,449.9" fill="none" stroke="#c01a1a" stroke-width="1.6" stroke-dasharray="3.1,2.5"/>
<path d="M358.6,445.3h4.6M360.9,445.3v2.4M358.6,447.7h4.6M380.4,442.1h4.6M382.7,442.1v2.4M380.4,444.5h4.6M403.3,444.3h4.6M405.6,444.3v3.0M403.3,447.3h4.6M425.7,445.0h4.6M428.0,445.0v3.0M425.7,448.0h4.6M448.0,441.7h4.6M450.3,441.7v2.4M448.0,444.1h4.6M470.3,441.7h4.6M472.6,441.7v2.4M470.3,444.1h4.6M492.5,444.3h4.6M494.8,444.3v3.0M492.5,447.3h4.6M515.3,445.2h4.6M517.6,445.2v3.0M515.3,448.2h4.6M538.2,446.3h4.6M540.5,446.3v2.4M538.2,448.7h4.6M560.5,446.3h4.6M562.8,446.3v2.4M560.5,448.7h4.6M582.8,446.8h4.6M585.1,446.8v2.4M582.8,449.2h4.6M605.7,447.3h4.6M608.0,447.3v3.0M605.7,450.3h4.6M628.8,447.9h4.6M631.1,447.9v4.0M628.8,451.9h4.6" stroke="#b01010" stroke-width="1.4" fill="none"/>
<rect x="359.5" y="445.5" width="2.8" height="2.0" rx="0.6" fill="#b01010"/>
<rect x="381.3" y="442.3" width="2.8" height="2.0" rx="0.6" fill="#b01010"/>
<rect x="404.2" y="444.8" width="2.8" height="2.0" rx="0.6" fill="#b01010"/>
<rect x="426.6" y="445.5" width="2.8" height="2.0" rx="0.6" fill="#b01010"/>
<rect x="448.9" y="441.9" width="2.8" height="2.0" rx="0.6" fill="#b01010"/>
<rect x="471.2" y="441.9" width="2.8" height="2.0" rx="0.6" fill="#b01010"/>
<rect x="493.4" y="444.8" width="2.8" height="2.0" rx="0.6" fill="#b01010"/>
<rect x="516.2" y="445.7" width="2.8" height="2.0" rx="0.6" fill="#b01010"/>
<rect x="539.1" y="446.5" width="2.8" height="2.0" rx="0.6" fill="#b01010"/>
<rect x="561.4" y="446.5" width="2.8" height="2.0" rx="0.6" fill="#b01010"/>
<rect x="583.7" y="447.0" width="2.8" height="2.0" rx="0.6" fill="#b01010"/>
<rect x="606.6" y="447.8" width="2.8" height="2.0" rx="0.6" fill="#b01010"/>
<rect x="629.7" y="448.9" width="2.8" height="2.0" rx="0.6" fill="#b01010"/>
<polyline points="360.9,432.3 382.7,433.1 405.6,433.1 428.0,432.1 450.3,434.0 472.6,433.1 494.8,433.1 517.6,433.0 540.5,433.0 562.8,433.0 585.1,433.0 608.0,433.6 631.1,433.0" fill="none" stroke="#1212b4" stroke-width="1.6" stroke-dasharray="3.1,2.5"/>
<path d="M358.6,430.8h4.6M360.9,430.8v3.0M358.6,433.8h4.6M380.4,431.6h4.6M382.7,431.6v3.0M380.4,434.6h4.6M403.3,431.6h4.6M405.6,431.6v3.0M403.3,434.6h4.6M425.7,430.1h4.6M428.0,430.1v4.0M425.7,434.1h4.6M448.0,432.0h4.6M450.3,432.0v4.0M448.0,436.0h4.6M470.3,431.6h4.6M472.6,431.6v3.0M470.3,434.6h4.6M492.5,431.3h4.6M494.8,431.3v3.6M492.5,434.9h4.6M515.3,431.5h4.6M517.6,431.5v3.0M515.3,434.5h4.6M538.2,431.5h4.6M540.5,431.5v3.0M538.2,434.5h4.6M560.5,431.5h4.6M562.8,431.5v3.0M560.5,434.5h4.6M582.8,431.5h4.6M585.1,431.5v3.0M582.8,434.5h4.6M605.7,431.8h4.6M608.0,431.8v3.6M605.7,435.4h4.6M628.8,431.0h4.6M631.1,431.0v4.0M628.8,435.0h4.6" stroke="#0c0ca4" stroke-width="1.4" fill="none"/>
<rect x="359.5" y="431.3" width="2.8" height="2.0" rx="0.6" fill="#0c0ca4"/>
<rect x="381.3" y="432.1" width="2.8" height="2.0" rx="0.6" fill="#0c0ca4"/>
<rect x="404.2" y="432.1" width="2.8" height="2.0" rx="0.6" fill="#0c0ca4"/>
<rect x="426.6" y="431.1" width="2.8" height="2.0" rx="0.6" fill="#0c0ca4"/>
<rect x="448.9" y="433.0" width="2.8" height="2.0" rx="0.6" fill="#0c0ca4"/>
<rect x="471.2" y="432.1" width="2.8" height="2.0" rx="0.6" fill="#0c0ca4"/>
<rect x="493.4" y="432.1" width="2.8" height="2.0" rx="0.6" fill="#0c0ca4"/>
<rect x="516.2" y="432.0" width="2.8" height="2.0" rx="0.6" fill="#0c0ca4"/>
<rect x="539.1" y="432.0" width="2.8" height="2.0" rx="0.6" fill="#0c0ca4"/>
<rect x="561.4" y="432.0" width="2.8" height="2.0" rx="0.6" fill="#0c0ca4"/>
<rect x="583.7" y="432.0" width="2.8" height="2.0" rx="0.6" fill="#0c0ca4"/>
<rect x="606.6" y="432.6" width="2.8" height="2.0" rx="0.6" fill="#0c0ca4"/>
<rect x="629.7" y="432.0" width="2.8" height="2.0" rx="0.6" fill="#0c0ca4"/>
<text x="431.7" y="421.5" fill="#151515" stroke="#151515" stroke-width="0.25" font-size="11.55">Silk fibroin solution (6.7%)</text>
<text x="342.9" y="380.8" font-family='"Liberation Serif", serif' font-weight="bold" font-size="19" fill="#000">h</text>
<text transform="translate(679.8,429.7) rotate(-90)" text-anchor="middle" fill="#c01a1a" stroke="#c01a1a" stroke-width="0.25" font-size="12.4">&#916;A&#215;10<tspan font-size="8.68" dy="-5.83">&#8722;3</tspan></text>
<text x="187.5" y="503.5" text-anchor="middle" fill="#151515" stroke="#151515" stroke-width="0.25" font-size="12"><tspan font-style="italic">&#955;</tspan> (nm)</text>
<text x="469.3" y="504" fill="#151515" stroke="#151515" stroke-width="0.25" font-size="12" font-style="italic">&#955;</text>
<rect x="476.1" y="500.2" width="5.1" height="1.1" fill="#151515"/>
<text x="483.2" y="504" fill="#151515" stroke="#151515" stroke-width="0.25" font-size="12" font-style="italic">&#955;</text>
<text x="489.0" y="506.8" fill="#151515" stroke="#151515" stroke-width="0.25" font-size="8.8">0</text>
<text x="498.1" y="504" fill="#151515" stroke="#151515" stroke-width="0.25" font-size="12">(pm)</text>
</svg>
</body></html>
